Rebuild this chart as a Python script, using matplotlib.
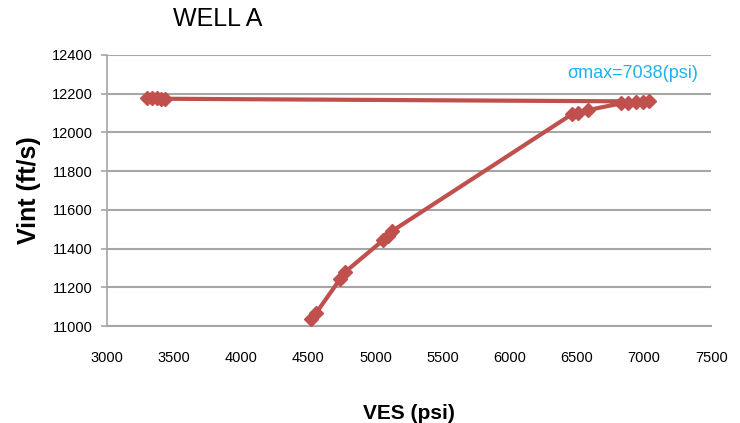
import matplotlib
matplotlib.use("Agg")
import matplotlib.pyplot as plt

# Vertical effective stress (psi) vs interval velocity (ft/s), in log order
ves = [4520, 4557, 4736, 4773, 5057, 5094, 5124, 6465, 6510, 6584,
       6830, 6880, 6940, 6990, 7038,
       3432, 3400, 3370, 3335, 3300]
vint = [11036, 11067, 11243, 11279, 11444, 11465, 11491, 12095, 12100, 12116,
        12150, 12152, 12155, 12158, 12160,
        12174, 12175, 12176, 12177, 12178]

x_ticks = [3000, 3500, 4000, 4500, 5000, 5500, 6000, 6500, 7000, 7500]
y_ticks = [11000, 11200, 11400, 11600, 11800, 12000, 12200, 12400]
sigma_max = 7038

plt.rcParams['font.family'] = ['Liberation Sans', 'DejaVu Sans']

fig = plt.figure(figsize=(7.4, 4.23), dpi=100)
ax = fig.add_axes([0.1446, 0.229, 0.8164, 0.641])

red = '#C0504D'
grid = '#A6A6A6'

ax.plot(ves, vint, color=red, lw=3, marker='D', ms=7, mec=red, mfc=red,
        zorder=3, solid_capstyle='round')

ax.set_xlim(x_ticks[0], x_ticks[-1])
ax.set_ylim(y_ticks[0], y_ticks[-1])
ax.set_xticks(x_ticks)
ax.set_yticks(y_ticks)

ax.yaxis.grid(True, color=grid, lw=1.5)
ax.set_axisbelow(True)
for s in ['top', 'right']:
    ax.spines[s].set_visible(False)
ax.spines['left'].set_color(grid)
ax.spines['left'].set_linewidth(1.2)
ax.spines['bottom'].set_color(grid)
ax.spines['bottom'].set_linewidth(1.5)

ax.tick_params(axis='y', length=4, color=grid, width=1.2, labelsize=10.5, pad=6)
ax.tick_params(axis='x', length=0, labelsize=10.5, pad=18)

ax.set_ylabel('Vint (ft/s)', fontsize=18, fontweight='bold', labelpad=8)
ax.set_xlabel('VES (psi)', fontsize=15, fontweight='bold', labelpad=28)

fig.text(0.2946, 0.955, 'WELL A', fontsize=18, ha='center', va='center', color='black')

ax.text(7400, 12305, 'σmax=%d(psi)' % sigma_max, color='#1FB0F0', fontsize=13,
        ha='right', va='center')

fig.savefig('out.png', dpi=100)
